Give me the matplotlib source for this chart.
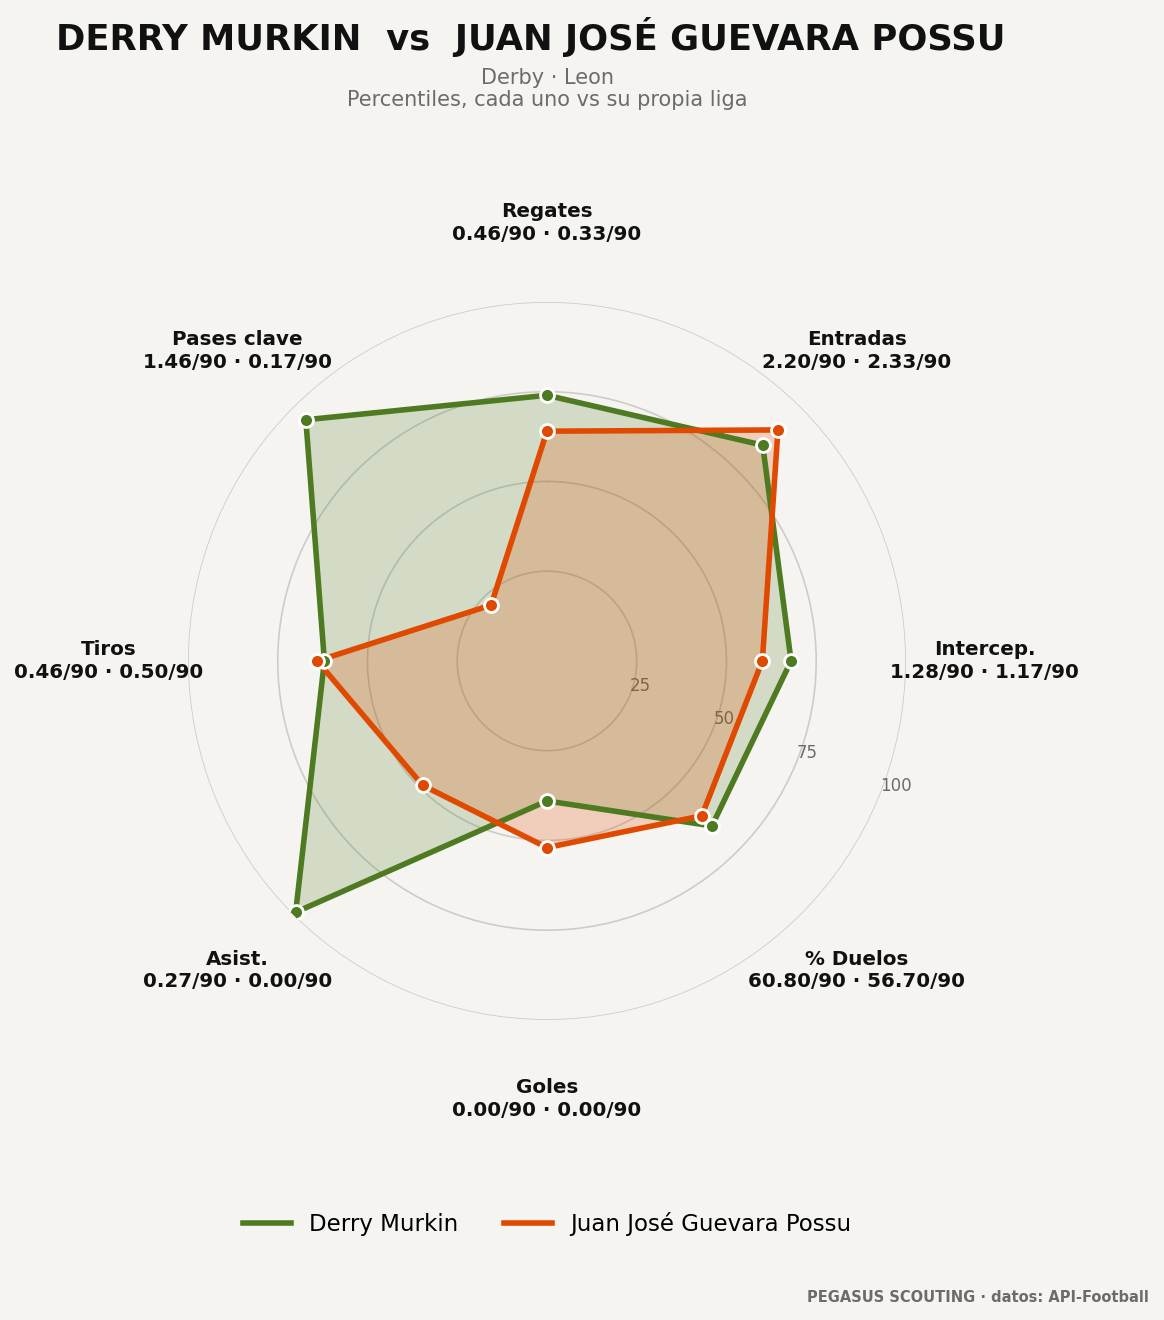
import numpy as np
import matplotlib
matplotlib.use("Agg")
import matplotlib.pyplot as plt

categories = ["Regates", "Entradas", "Intercep.", "% Duelos", "Goles", "Asist.", "Tiros", "Pases clave"]
per90_a = ["0.46/90", "2.20/90", "1.28/90", "60.80/90", "0.00/90", "0.27/90", "0.46/90", "1.46/90"]
per90_b = ["0.33/90", "2.33/90", "1.17/90", "56.70/90", "0.00/90", "0.00/90", "0.50/90", "0.17/90"]
pct_a = [74, 85, 68, 65, 39, 99, 62, 95]
pct_b = [64, 91, 60, 61, 52, 49, 64, 22]
name_a = "Derry Murkin"
name_b = "Juan José Guevara Possu"
rticks = [25, 50, 75, 100]

BG = "#f5f4f0"
GREEN = "#4e7a21"
ORANGE = "#e04a00"

fig = plt.figure(figsize=(11.64, 13.2), dpi=100, facecolor=BG)
ax = fig.add_axes([0.1615, 0.2273, 0.6168, 0.544], projection="polar")
ax.set_facecolor(BG)
ax.set_theta_zero_location("N")
ax.set_theta_direction(-1)

n = len(categories)
angles = np.linspace(0, 2 * np.pi, n, endpoint=False)
ang_c = np.concatenate([angles, angles[:1]])

for vals, col, falpha, name in [(pct_a, GREEN, 0.20, name_a), (pct_b, ORANGE, 0.22, name_b)]:
    v = np.concatenate([vals, vals[:1]])
    ax.fill(ang_c, v, color=col, alpha=falpha, zorder=2, linewidth=0)
for vals, col, name in [(pct_a, GREEN, name_a), (pct_b, ORANGE, name_b)]:
    v = np.concatenate([vals, vals[:1]])
    ax.plot(ang_c, v, color=col, linewidth=4, zorder=3, label=name)
    ax.plot(angles, vals, linestyle="none", marker="o", markersize=10,
            markerfacecolor=col, markeredgecolor="white", markeredgewidth=2, zorder=4)

ax.set_ylim(0, 100)
ax.set_yticks(rticks)
ax.set_yticklabels([str(t) for t in rticks], color="#6b6b6b", fontsize=12)
ax.set_rlabel_position(112)
ax.set_xticks(angles)
ax.set_xticklabels([])
ax.xaxis.grid(False)
ax.yaxis.grid(True, color="#cccccc", linewidth=1.2)
ax.spines["polar"].set_visible(False)

for a, c, pa, pb in zip(angles, categories, per90_a, per90_b):
    ax.text(a, 122, f"{c}\n{pa} · {pb}", ha="center", va="center",
            fontsize=14.3, fontweight="bold", color="#111111", clip_on=False,
            linespacing=1.25)

fig.text(0.456, 0.972, "DERRY MURKIN  vs  JUAN JOSÉ GUEVARA POSSU", ha="center", va="center",
         fontsize=25.5, fontweight="bold", color="#111111")
fig.text(0.47, 0.9328, "Derby · Leon\nPercentiles, cada uno vs su propia liga", ha="center", va="center",
         fontsize=15, color="#6b6b6b", linespacing=1.1)

leg = fig.legend(loc="center", bbox_to_anchor=(0.47, 0.0727), ncol=2, frameon=False,
                 fontsize=16.5, handlelength=2.1, columnspacing=2.0)
fig.text(0.987, 0.0174, "PEGASUS SCOUTING · datos: API-Football", ha="right", va="center",
         fontsize=10.5, fontweight="bold", color="#6b6b6b")

fig.savefig("out.png", dpi=100, facecolor=BG)
